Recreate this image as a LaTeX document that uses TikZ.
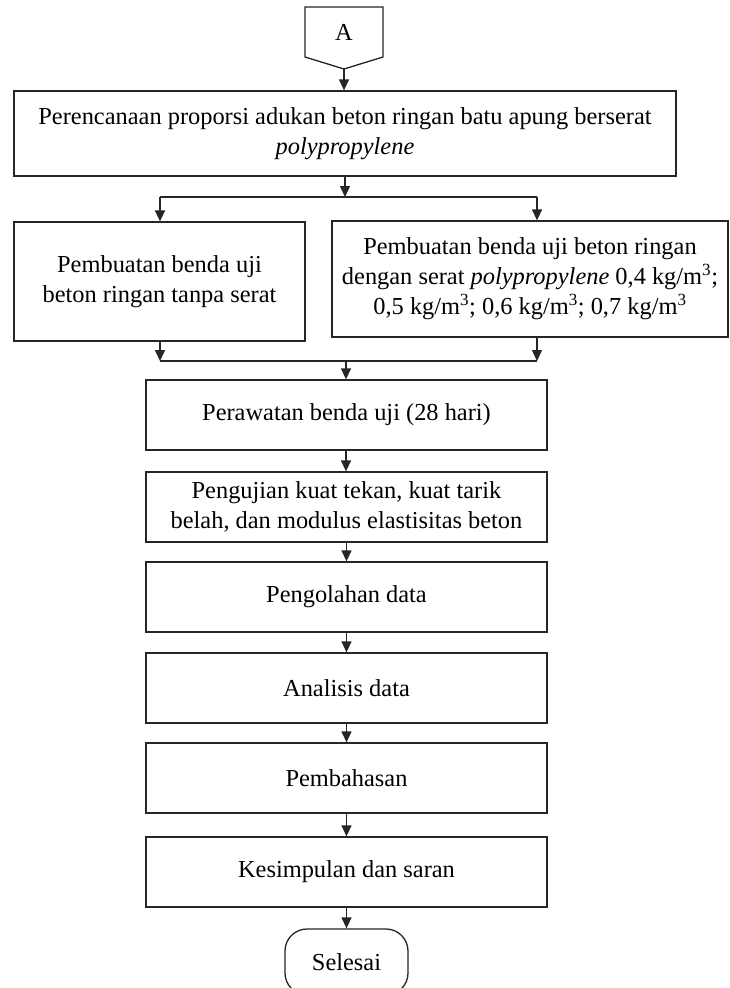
\documentclass[tikz,border=0pt]{standalone}
\usepackage{fontspec}
\setmainfont{Liberation Serif}
\usetikzlibrary{arrows.meta}
\tikzset{
  ln/.style={draw=black!85, line width=1.3pt},
  arr/.style={ln, -{Triangle[length=11pt,width=10pt]}},
  procbox/.style={ln, rectangle, align=center, inner sep=0pt, font=\fontsize{24.4}{30}\selectfont, text=black},
}
\begin{document}
\begin{tikzpicture}[x=1pt,y=-1pt]
\clip (0,0) rectangle (729,988);
\fill[white] (0,0) rectangle (729,988);
% connector A
\draw[ln, fill=white] (305,7) -- (383,7) -- (383,57) -- (344,69) -- (305,57) -- cycle;
\node[font=\fontsize{24.4}{30}\selectfont] (A) at (344,32) {A};
\coordinate (Atip) at (344,69);
% boxes
\node[procbox, minimum width=662pt, minimum height=85pt] (b1) at (345,133.5)
  {\raisebox{4pt}{\begin{tabular}{@{}c@{}}Perencanaan proporsi adukan beton ringan batu apung berserat\\ \textit{polypropylene}\end{tabular}}};
\node[procbox, minimum width=291pt, minimum height=119pt] (lb) at (159.5,281.5)
  {\raisebox{-3pt}{\begin{tabular}{@{}c@{}}Pembuatan benda uji\\ beton ringan tanpa serat\end{tabular}}};
\node[procbox, minimum width=396pt, minimum height=116pt] (rb) at (530,279)
  {Pembuatan benda uji beton ringan\\ dengan serat \textit{polypropylene} 0,4 kg/m\textsuperscript{3};\\ 0,5 kg/m\textsuperscript{3}; 0,6 kg/m\textsuperscript{3}; 0,7 kg/m\textsuperscript{3}};
\node[procbox, minimum width=401pt, minimum height=70pt] (p1) at (346.5,415) {Perawatan benda uji (28 hari)};
\node[procbox, minimum width=401pt, minimum height=70pt] (p2) at (346.5,507)
  {Pengujian kuat tekan, kuat tarik\\ belah, dan modulus elastisitas beton};
\node[procbox, minimum width=401pt, minimum height=70pt] (p3) at (346.5,597) {Pengolahan data};
\node[procbox, minimum width=401pt, minimum height=70pt] (p4) at (346.5,688) {Analisis data};
\node[procbox, minimum width=401pt, minimum height=70pt] (p5) at (346.5,778) {Pembahasan};
\node[procbox, minimum width=401pt, minimum height=70pt] (p6) at (346.5,872) {Kesimpulan dan saran};
\node[procbox, rounded corners=22pt, minimum width=123pt, minimum height=66pt] (end) at (346.5,962) {Selesai};
% split / merge coordinates
\coordinate (sL) at (160,197);
\coordinate (sR) at (537,197);
\coordinate (sM) at (345,197);
\coordinate (mL) at (160,361);
\coordinate (mR) at (537,361);
\coordinate (mM) at (346,361);
% connectors
\draw[arr] (Atip) -- (Atip |- b1.north);
\draw[arr] (b1.south -| sM) -- (sM);
\draw[ln] (sL) -- (sR);
\draw[arr] (sL) -- (sL |- lb.north);
\draw[arr] (sR) -- (sR |- rb.north);
\draw[arr] (lb.south -| mL) -- (mL);
\draw[arr] (rb.south -| mR) -- (mR);
\draw[ln] (mL) -- (mR);
\draw[arr] (mM) -- (mM |- p1.north);
\draw[arr] (p1.south -| mM) -- (mM |- p2.north);
\draw[arr] (p2.south) -- (p3.north);
\draw[arr] (p3.south) -- (p4.north);
\draw[arr] (p4.south) -- (p5.north);
\draw[arr] (p5.south) -- (p6.north);
\draw[arr] (p6.south) -- (end.north);
\end{tikzpicture}
\end{document}
